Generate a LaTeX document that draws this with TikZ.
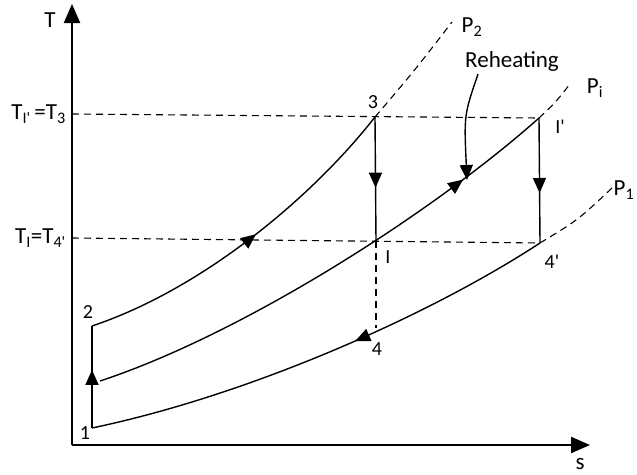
\documentclass[tikz,border=0pt]{standalone}
\usepackage{fontspec}
\setmainfont{Carlito}
\usetikzlibrary{arrows.meta,decorations.markings}
\tikzset{
  lbl/.style={font=\fontsize{20}{22}\selectfont, inner sep=1pt},
  big/.style={font=\fontsize{23}{26}\selectfont, inner sep=1pt},
  curve/.style={line width=1.4pt},
  ext/.style={line width=1.1pt, dash pattern=on 7pt off 5pt},
  midarrow/.style={postaction={decorate}, decoration={markings,
    mark=at position #1 with {\arrow{Triangle[length=15pt,width=13pt]}}}},
  revarrow/.style={postaction={decorate}, decoration={markings,
    mark=at position #1 with {\arrowreversed{Triangle[length=15pt,width=13pt]}}}}
}
\newcommand{\q}{\textquotesingle}
\begin{document}
\begin{tikzpicture}[x=1pt, y=-1pt]
\useasboundingbox (0,0) rectangle (637,474);
% state points
\coordinate (o) at (72,445);
\coordinate (ytop) at (72,4);
\coordinate (xend) at (590,445);
\coordinate (p1) at (92,428);
\coordinate (p2) at (92,326);
\coordinate (p3) at (375,117);
\coordinate (pI) at (376,241);
\coordinate (pIp) at (539,118);
\coordinate (p4) at (376,328);
\coordinate (p4p) at (540,243);
\coordinate (pm) at (100,381);
\coordinate (ax3) at (72,114);
\coordinate (ax4) at (72,238);
\coordinate (e2) at (452,22);
\coordinate (ei) at (570,84);
\coordinate (e1) at (612,188);
% axes
\draw[line width=2.2pt, -{Triangle[length=19pt,width=16pt]}] (o) -- (ytop);
\draw[line width=2.2pt, -{Triangle[length=19pt,width=16pt]}] (o) -- (xend);
\node[big] (tT) at (50,20) {T};
\node[big] (ts) at (580,464) {s};
% temperature levels
\draw[ext] (ax3) -- (pIp);
\draw[ext] (ax4) -- (p4p);
\draw[ext] (pI) -- (p4);
\node[big, anchor=east] (tT3) at (67,114) {T\textsubscript{I\q}\,=T\textsubscript{3}};
\node[big, anchor=east] (tT4) at (67,238) {T\textsubscript{I}=T\textsubscript{4\q}};
% isobars
\draw[curve, midarrow=0.53] (p2) .. controls (200,290) and (310,200) .. (p3);
\draw[curve, midarrow=0.81] (pm) .. controls (240,335) and (430,215) .. (pIp);
\draw[curve, revarrow=0.57] (p1) .. controls (250,395) and (430,315) .. (p4p);
\draw[ext] (p3) .. controls (415,70) .. (e2);
\draw[ext] (pIp) .. controls (555,103) .. (ei);
\draw[ext] (p4p) .. controls (578,220) .. (e1);
\node[big] (tP2) at (472,27) {P\textsubscript{2}};
\node[big] (tPi) at (595,88) {P\textsubscript{i}};
\node[big] (tP1) at (624,190) {P\textsubscript{1}};
% compression and expansion
\draw[curve, midarrow=0.57] (p1) -- (p2);
\draw[curve, midarrow=0.57] (p3) -- (pI);
\draw[curve, midarrow=0.6] (pIp) -- (p4p);
% reheating
\node[big] (tre) at (512,61) {Reheating};
\coordinate (re) at (467,180);
\draw[curve, -{Triangle[length=15pt,width=13pt]}] (tre.south west) ++(14,2) .. controls (464,115) .. (re);
% point labels
\node[lbl] (l1) at (85,433) {1};
\node[lbl] (l2) at (88,312) {2};
\node[lbl] (l3) at (373,102) {3};
\node[lbl] (lI) at (388,257) {I};
\node[lbl] (lIp) at (560,127) {I\q};
\node[lbl] (l4) at (377,349) {4};
\node[lbl] (l4p) at (552,262) {4\q};
\end{tikzpicture}
\end{document}
